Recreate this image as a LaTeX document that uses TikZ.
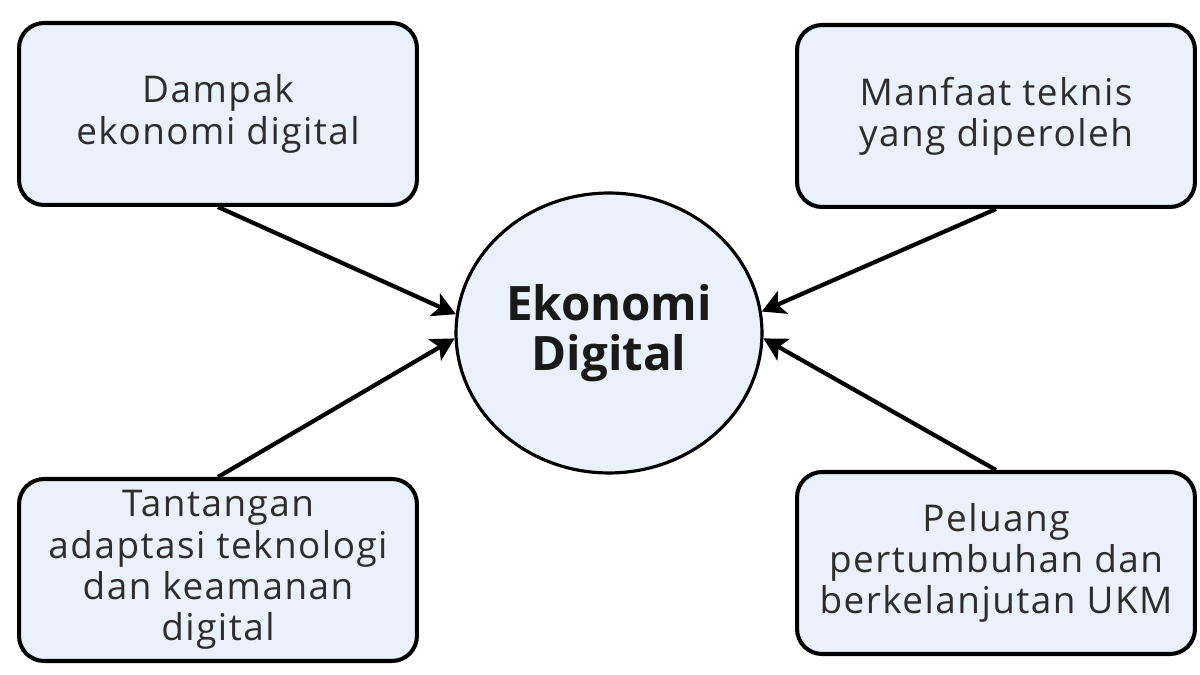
\documentclass[tikz,border=0pt]{standalone}
\usepackage{fontspec}
\setmainfont{Open Sans}
\newfontfamily\boxfont{Open Sans}[LetterSpace=4]
\usetikzlibrary{shapes.geometric,arrows.meta}
\definecolor{boxfill}{RGB}{234,241,250}
\definecolor{boxtext}{RGB}{45,45,48}

\begin{document}
\begin{tikzpicture}[x=0.02cm, y=-0.02cm,
% Box style
		box/.style={rectangle
							    , rounded corners=0.5cm
							    , fill=boxfill
							    , draw=black, line width=2.3pt
							    , minimum width=7.96cm
							    , minimum height=3.64cm
							    , align=center
							    , text=boxtext
							    , font=\boxfont\fontsize{21}{23.5}\selectfont},
		hub/.style={ellipse
							    , fill=boxfill
							    , draw=black, line width=1.8pt
							    , minimum width=6.12cm
							    , minimum height=5.6cm
							    , inner sep=0pt
							    , align=center
							    , text=black!90
							    , font=\bfseries\fontsize{27}{28.5}\selectfont},
% Arrow style
    link/.style = {line width=2.4pt
			       			, -{Stealth[length=13pt,width=14pt,inset=3pt]}}
	]
	\useasboundingbox (0,0) rectangle (1200,675);
%% Draw nodes
	\node [hub] (eko) at (609,333) {Ekonomi\\Digital};
	\node [box] (dam) at (218,114) {Dampak\\ekonomi digital};
	\node [box] (man) at (996,116) {Manfaat teknis\\yang diperoleh};
	\node [box] (tan) at (218,570) {Tantangan\\adaptasi teknologi\\dan keamanan\\digital};
	\node [box] (pel) at (996,563) {Peluang\\pertumbuhan dan\\berkelanjutan UKM};
%% Draw arrows
	\draw [link] (dam.south) -- (eko.173);
	\draw [link] (tan.north) -- (eko.182);
	\draw [link] (man.south) -- (eko.8);
	\draw [link] (pel.north) -- (eko.358);
\end{tikzpicture}
\end{document}
